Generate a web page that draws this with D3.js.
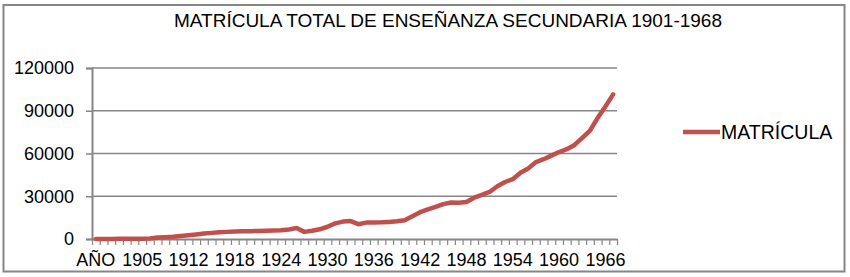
<!DOCTYPE html>
<html>
<head>
<meta charset="utf-8">
<script src="https://cdn.jsdelivr.net/npm/d3@7"></script>
<style>
  html, body { margin: 0; padding: 0; background: #fff; }
  svg { display: block; }
  text { font-family: "Liberation Sans", Arial, sans-serif; fill: #000; }
</style>
</head>
<body>
<svg id="chart" width="850" height="277"></svg>
<script>
// ---- Data ----
const title = "MATRÍCULA TOTAL DE ENSEÑANZA SECUNDARIA 1901-1968";
const seriesName = "MATRÍCULA";
const categories = ["AÑO",
  "1900","1901","1902","1903","1904","1905",
  "1907","1908","1909","1910","1911",
  "1912","1913","1914","1915","1916","1917","1918","1919","1920","1921","1922","1923",
  "1924","1925","1926","1927","1928","1929","1930","1931","1932","1933","1934","1935",
  "1936","1937","1938","1939","1940","1941","1942","1943","1944","1945","1946","1947",
  "1948","1949","1950","1951","1952","1953","1954","1955","1956","1957","1958","1959",
  "1960","1961","1962","1963","1964","1965","1966","1967"];
const matricula = [0,
  0, 50, 100, 150, 200, 250,
  300, 1100, 1300, 1600, 2100,
  2700, 3200, 3800, 4300, 4700, 5000, 5200, 5400, 5500, 5700, 5800, 6000,
  6200, 6700, 7700, 5000, 5800, 6800, 8600, 11000, 12200, 12600, 10400, 11500,
  11600, 11700, 12000, 12400, 13100, 16000, 18800, 20800, 22500, 24500, 25600, 25400,
  26000, 29000, 31000, 33000, 37000, 40000, 42000, 46500, 49500, 54000, 56000, 58500,
  61000, 63000, 66000, 71000, 76000, 85000, 93000, 101500];
const yTicks = [0, 30000, 60000, 90000, 120000];
const labelEvery = 6;

// ---- Layout ----
const svg = d3.select("#chart");
const mLeft = 92, mRight = 617, mTop = 68, mBottom = 239;
const gray = "#868686";
const red = "#c0504d";

// outer border
svg.append("rect")
  .attr("x", 3.5).attr("y", 5).attr("width", 841).attr("height", 266.5)
  .attr("fill", "#fff").attr("stroke", gray).attr("stroke-width", 2);

// title
svg.append("text")
  .attr("x", 448).attr("y", 27)
  .attr("text-anchor", "middle")
  .style("font-size", "19px")
  .text(title);

const x = d3.scaleBand().domain(d3.range(categories.length)).range([mLeft, mRight]).padding(0);
const xb = d3.scaleLinear().domain([0, categories.length]).range([mLeft, mRight]);
const y = d3.scaleLinear().domain([0, 120000]).range([mBottom, mTop]);

// gridlines
svg.append("g")
  .selectAll("line")
  .data(yTicks.filter(d => d > 0))
  .join("line")
  .attr("x1", mLeft).attr("x2", mRight)
  .attr("y1", d => y(d)).attr("y2", d => y(d))
  .attr("stroke", gray).attr("stroke-width", 1.5);

// y axis
const yAxis = svg.append("g")
  .attr("transform", `translate(${mLeft},0)`)
  .call(d3.axisLeft(y).tickValues(yTicks).tickSize(6).tickPadding(12).tickFormat(d3.format("d")));
yAxis.select(".domain").attr("stroke", gray).attr("stroke-width", 2);
yAxis.selectAll(".tick line").attr("stroke", gray).attr("stroke-width", 1.5);
yAxis.selectAll("text").style("font-size", "18px").attr("fill", "#000");

// x axis ticks (category boundaries)
const xTickAxis = svg.append("g")
  .attr("transform", `translate(0,${mBottom})`)
  .call(d3.axisBottom(xb).tickValues(d3.range(categories.length + 1)).tickSize(6).tickSizeOuter(0).tickFormat(""));
xTickAxis.select(".domain").attr("stroke", gray).attr("stroke-width", 2);
xTickAxis.selectAll(".tick line").attr("stroke", gray).attr("stroke-width", 1.2);

// x axis labels
const xLabAxis = svg.append("g")
  .attr("transform", `translate(0,${mBottom})`)
  .call(d3.axisBottom(x)
    .tickValues(d3.range(0, categories.length, labelEvery))
    .tickSize(0).tickPadding(14)
    .tickFormat(i => categories[i]));
xLabAxis.select(".domain").remove();
xLabAxis.selectAll("text").style("font-size", "18px").attr("fill", "#000");

// line
const line = d3.line()
  .x((d, i) => x(i) + x.bandwidth() / 2)
  .y(d => y(d));
svg.append("path")
  .datum(matricula)
  .attr("d", line)
  .attr("fill", "none")
  .attr("stroke", red)
  .attr("stroke-width", 4.5)
  .attr("stroke-linejoin", "round")
  .attr("stroke-linecap", "round");

// legend
const lg = svg.append("g").attr("transform", "translate(683,132)");
lg.append("line").attr("x1", 0).attr("x2", 37).attr("y1", 0).attr("y2", 0)
  .attr("stroke", red).attr("stroke-width", 4.5);
lg.append("text").attr("x", 38).attr("y", 0).attr("dy", "0.35em")
  .style("font-size", "19.5px").text(seriesName);
</script>
</body>
</html>
